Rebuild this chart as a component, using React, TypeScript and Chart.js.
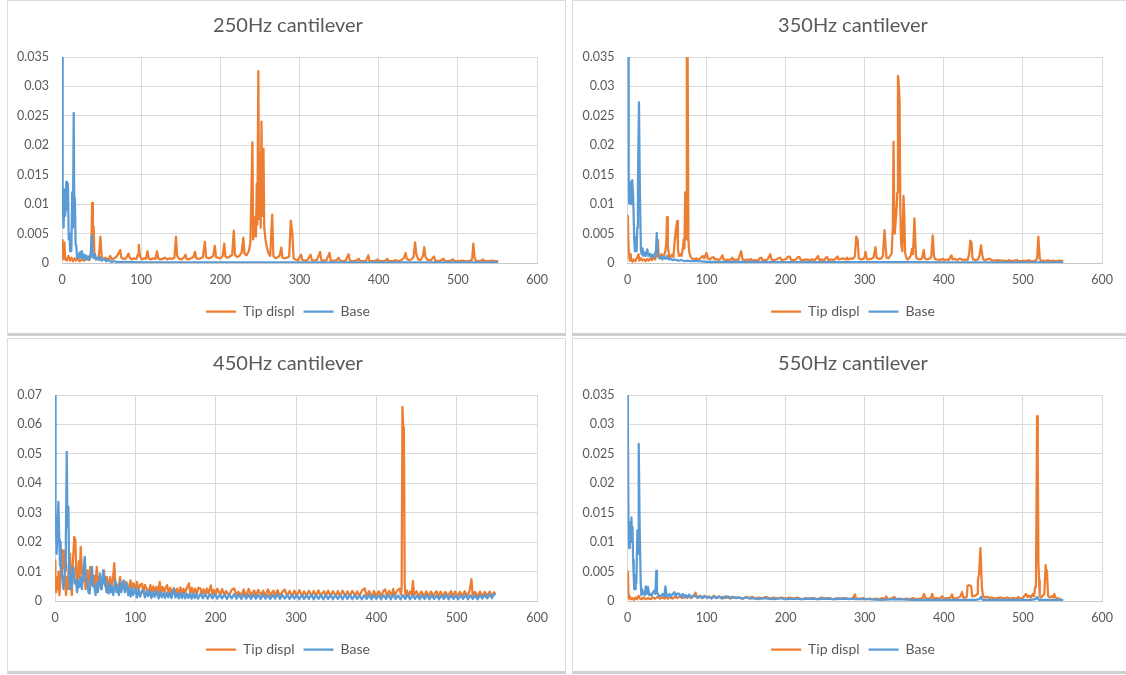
import React, { useEffect, useRef } from "react";
import { Chart, registerables } from "chart.js";

Chart.register(...registerables);

type Pt = [number, number];

const ORANGE = "#ED7D31";
const BLUE = "#5B9BD5";
const TEXT = "#595959";
const GRID = "#d9d9d9";
const FONT = "Lato, 'Open Sans', sans-serif";

const seriesNames = ["Tip displ", "Base"];
const titles = ["250Hz cantilever", "350Hz cantilever", "450Hz cantilever", "550Hz cantilever"];
const xTickLabels = ["0", "100", "200", "300", "400", "500", "600"];
const yTicksSmall = ["0", "0.005", "0.01", "0.015", "0.02", "0.025", "0.03", "0.035"];
const yTicksLarge = ["0", "0.01", "0.02", "0.03", "0.04", "0.05", "0.06", "0.07"];

// ---------- 250Hz ----------
const tip250: Pt[] = [
  [0,0.0039],[0.5,0.0028],[1,0.0012],[2,0.0006],[3,0.0035],[4,0.0008],[6,0.0004],[8,0.0012],[10,0.0004],[12,0.0009],[14,0.0003],[16,0.0008],[18,0.0004],[20,0.001],[22,0.0003],[25,0.0006],[28,0.0004],[31,0.0007],[34,0.0005],[36,0.0009],[37,0.0014],[38,0.0102],[39,0.0035],[40,0.0062],[41,0.0012],[43,0.0006],[46,0.0008],[47,0.0018],[48.5,0.0045],[50,0.0012],[52,0.0006],[55,0.0009],[58,0.0005],[61,0.0012],[63,0.0006],[66,0.0008],[69,0.0011],[72,0.0018],[73.5,0.0022],[75,0.0009],[78,0.0007],[81,0.0008],[84,0.0016],[85.5,0.0009],[88,0.0006],[91,0.0008],[94,0.0007],[96,0.0015],[97,0.0031],[98.5,0.0011],[101,0.0006],[104,0.0008],[106,0.0007],[108,0.002],[109.5,0.0008],[112,0.0006],[115,0.0008],[118,0.0007],[120,0.002],[121.5,0.0008],[124,0.0006],[127,0.0007],[130,0.0009],[133,0.0006],[136,0.0008],[139,0.0007],[142,0.0009],[144,0.0045],[145.5,0.0012],[148,0.0007],[151,0.0006],[154,0.0009],[156,0.0014],[157.5,0.0007],[160,0.0006],[163,0.0008],[166,0.001],[168,0.0019],[169.5,0.0008],[172,0.0007],[175,0.0008],[178,0.001],[180.5,0.0036],[182,0.001],[185,0.0008],[188,0.0009],[191,0.0012],[193,0.0029],[194.5,0.001],[197,0.0009],[200,0.0008],[203,0.0012],[205,0.0033],[206.5,0.0011],[209,0.0009],[212,0.0011],[215,0.0014],[217,0.0055],[218.5,0.0014],[221,0.001],[224,0.0012],[227,0.0018],[229,0.0043],[230.5,0.0016],[233,0.0013],[236,0.002],[238,0.0035],[240.5,0.0205],[241.5,0.004],[243,0.0055],[244,0.0078],[245,0.0045],[246,0.0135],[246.8,0.0065],[248,0.0326],[249,0.0075],[250,0.0186],[251,0.006],[252,0.024],[253,0.008],[254.5,0.0194],[255.5,0.006],[257,0.004],[259,0.0025],[261,0.0016],[263,0.0012],[265.5,0.0082],[267,0.0012],[270,0.0008],[273,0.001],[275,0.0013],[277,0.0026],[278.5,0.0009],[281,0.0008],[284,0.0009],[287,0.0011],[289,0.0072],[291,0.005],[292.5,0.0008],[295,0.0006],[298,0.0005],[302,0.0014],[303.5,0.0005],[307,0.0004],[310,0.0005],[314,0.0014],[315.5,0.0005],[319,0.0004],[322,0.0005],[326,0.0019],[327.5,0.0005],[331,0.0004],[334,0.0005],[338,0.0017],[339.5,0.0004],[343,0.0004],[346,0.0004],[349.6,0.0009],[351,0.0004],[355,0.0003],[358,0.0004],[362,0.0015],[363.5,0.0004],[367,0.0003],[371,0.0004],[375,0.0007],[376.5,0.0003],[380,0.0003],[384,0.0004],[387,0.0013],[388.5,0.0003],[392,0.0003],[396,0.0004],[399,0.0006],[400.5,0.0003],[405,0.0003],[408,0.0004],[411,0.0007],[412.5,0.0003],[417,0.0003],[422,0.0005],[423.5,0.0003],[428,0.0004],[432,0.0009],[434,0.0017],[435.5,0.0007],[438,0.0005],[441,0.0006],[444,0.001],[446,0.0035],[447.5,0.0015],[450,0.0006],[453,0.0005],[456,0.0012],[457.6,0.0027],[459,0.0011],[462,0.0005],[466,0.0005],[470,0.0011],[471.5,0.0004],[476,0.0003],[482,0.0007],[483.5,0.0003],[488,0.0003],[494,0.0006],[495.5,0.0003],[500,0.0003],[506,0.0004],[510,0.0003],[514,0.0003],[518,0.0006],[519.6,0.0033],[521,0.001],[523,0.0003],[527,0.0003],[532,0.0006],[533.5,0.0003],[538,0.0003],[544,0.0004],[547,0.0003],[551,0.0003]
];
const base250: Pt[] = [
  [0,0.035],[0.5,0.02],[1.2,0.0101],[2,0.006],[3.3,0.0125],[4,0.008],[5.4,0.0138],[6.3,0.009],[7.5,0.0135],[8.5,0.004],[9.6,0.005],[10.2,0.002],[10.8,0.004],[11.8,0.002],[12.9,0.012],[13.8,0.006],[14.8,0.0255],[15.6,0.008],[16.3,0.011],[17.2,0.003],[18,0.003],[19,0.001],[20,0.0015],[21,0.0008],[22.5,0.0018],[24,0.0009],[25,0.002],[26.5,0.0008],[28,0.0014],[29.5,0.0006],[30.5,0.0013],[32,0.0007],[33.5,0.0011],[35,0.0006],[36.5,0.002],[37.5,0.0047],[38.5,0.0015],[40,0.0008],[41.7,0.0015],[43,0.0006],[45,0.0009],[47,0.0005],[48,0.001],[50,0.0004],[53,0.0007],[56,0.0003],[59,0.0005],[62,0.0002],[66,0.0003],[70,0.00015],[80,0.0002],[100,0.00012],[150,0.0001],[200,0.0001],[300,0.0001],[400,0.0001],[500,0.0001],[551,0.0001]
];

// ---------- 350Hz ----------
const tip350: Pt[] = [
  [0,0.008],[0.6,0.0065],[1.3,0.0027],[2,0.0012],[3,0.0004],[4,0.0015],[5,0.0004],[6.5,0.0002],[8,0.0006],[10,0.0003],[12,0.0009],[14,0.0015],[15,0.0004],[17,0.0008],[19,0.0004],[21,0.0006],[23,0.0003],[25,0.0007],[27,0.0004],[29,0.0008],[31,0.0005],[33,0.0009],[35,0.0006],[37,0.0015],[38.5,0.0039],[39.5,0.001],[41,0.0008],[43,0.0015],[44.5,0.0008],[46,0.0012],[48,0.002],[49,0.0035],[50,0.0078],[51,0.003],[52.5,0.0012],[54,0.0009],[56,0.0014],[58,0.001],[59.5,0.0035],[61,0.0055],[62.7,0.0071],[63.8,0.0025],[65,0.0012],[67,0.0015],[68.5,0.0012],[70,0.0025],[71,0.004],[72,0.0025],[73,0.012],[74,0.004],[75,0.0355],[76,0.036],[77,0.004],[78,0.0018],[79.7,0.0011],[81,0.0008],[83,0.0007],[85,0.0006],[87,0.0008],[89,0.0005],[91,0.0007],[93,0.0009],[95,0.0012],[97,0.0008],[99.9,0.0017],[101.5,0.0008],[104,0.0006],[106.5,0.0009],[108.8,0.001],[110.5,0.0006],[113,0.0007],[115,0.0005],[118,0.0008],[120,0.0013],[121.5,0.0006],[124,0.0005],[127,0.0006],[130,0.0005],[132.5,0.0009],[134,0.0005],[137,0.0006],[140,0.0005],[143.7,0.002],[145.5,0.0006],[148,0.0005],[151,0.0006],[154,0.0005],[156,0.0007],[158,0.0004],[162,0.0005],[165,0.0004],[167,0.0008],[169,0.0009],[171,0.0005],[174,0.0005],[177,0.0006],[180.5,0.0015],[182,0.0006],[185,0.0005],[188,0.0006],[191,0.0008],[193,0.0009],[195,0.0005],[198,0.0006],[201,0.0007],[203,0.0011],[205,0.0011],[207,0.0005],[210,0.0005],[213,0.0006],[215.5,0.001],[217.6,0.001],[219,0.0005],[222,0.0005],[226,0.0006],[230,0.0005],[233,0.0006],[237,0.0005],[239,0.0008],[241,0.0012],[242.5,0.0005],[246,0.0006],[249,0.0005],[251,0.0009],[252.6,0.001],[254,0.0005],[258,0.0006],[261,0.0005],[264,0.0009],[265.6,0.0011],[267,0.0006],[270,0.0007],[273,0.0008],[276,0.0006],[277.7,0.0009],[279,0.0006],[282,0.0008],[285,0.0007],[287.5,0.0011],[289.3,0.0045],[291,0.0039],[292.5,0.0008],[295,0.0006],[298,0.0007],[300,0.0011],[301,0.0019],[302.5,0.0007],[305,0.0006],[308,0.0007],[311,0.0009],[313.5,0.0027],[315,0.0009],[318,0.0007],[321,0.0008],[323,0.0012],[325,0.0056],[326.5,0.0025],[327.5,0.0009],[330,0.0008],[332,0.0012],[334,0.0016],[335.5,0.006],[336.4,0.0206],[337.3,0.009],[338,0.005],[339,0.007],[340.4,0.0095],[341.2,0.012],[342,0.0318],[343,0.0305],[344,0.0277],[345,0.009],[346,0.0033],[347.5,0.002],[349,0.0114],[350,0.008],[351,0.0018],[352.5,0.0009],[354,0.0006],[356,0.0008],[358,0.0012],[359.8,0.0024],[361,0.0015],[362.8,0.0076],[364,0.0035],[365,0.0009],[367,0.0007],[370,0.0006],[372.5,0.0008],[374.6,0.0022],[376,0.0008],[378,0.0006],[381,0.0007],[384,0.0009],[386,0.0047],[387.5,0.0012],[389,0.0006],[392,0.0006],[395,0.0005],[398.6,0.0007],[400,0.0005],[403,0.0006],[406,0.0005],[409.7,0.0013],[411,0.0006],[414,0.0007],[417,0.0005],[419,0.0007],[421.8,0.0007],[424,0.0005],[427,0.0006],[430,0.0005],[432,0.0015],[433.5,0.0038],[435,0.0035],[436,0.0012],[437,0.0006],[440,0.0005],[443,0.0006],[445,0.0012],[447,0.003],[448.8,0.0012],[450,0.0006],[453,0.0005],[456,0.0007],[458.6,0.0007],[460,0.0005],[464,0.0004],[468,0.0005],[472,0.0004],[476,0.0004],[480,0.0003],[482.8,0.0005],[485,0.0003],[489,0.0004],[492.6,0.0005],[494,0.0003],[498,0.0003],[502,0.0004],[505,0.0003],[507.4,0.0005],[509,0.0003],[513,0.0003],[516,0.0004],[518,0.0008],[519.5,0.0045],[521.3,0.0008],[523,0.0003],[526,0.0004],[529,0.0003],[532,0.0005],[534,0.0003],[538,0.0004],[542,0.0003],[546,0.0004],[551,0.0003]
];
const base350: Pt[] = [
  [0,0.035],[0.9,0.035],[1.5,0.015],[2.1,0.0101],[3,0.012],[3.8,0.0138],[4.8,0.01],[6,0.0141],[7.2,0.0113],[8.5,0.0039],[9.5,0.002],[10.6,0.0044],[11.5,0.002],[12.3,0.006],[13.2,0.0135],[14.5,0.0273],[15.7,0.0118],[17,0.0022],[18,0.0015],[19,0.0025],[20,0.0012],[21.5,0.0018],[23,0.0012],[25,0.0023],[26.5,0.0012],[28.5,0.0016],[30,0.001],[31.5,0.0014],[33,0.0009],[34.5,0.0015],[36,0.002],[37,0.0051],[38,0.0018],[39,0.0012],[40.5,0.0008],[42,0.001],[44,0.0006],[46,0.0011],[48,0.0007],[50,0.0012],[52,0.0006],[54,0.0007],[57,0.0005],[60,0.0006],[64,0.0004],[68,0.0005],[72,0.0003],[76,0.0004],[80,0.0003],[90,0.0003],[100,0.0002],[120,0.0002],[150,0.0002],[200,0.00015],[250,0.00015],[300,0.00015],[350,0.00015],[400,0.00012],[450,0.00012],[500,0.0001],[551,0.0001]
];

// ---------- 450Hz ----------
const tip450: Pt[] = [
  [0,0.0138],[0.5,0.006],[1.5,0.003],[2.5,0.008],[3.5,0.004],[4.5,0.01],[5.5,0.002],[6.5,0.006],[7.5,0.012],[8.5,0.008],[9.6,0.0173],[10.5,0.011],[11.7,0.017],[12.7,0.006],[13.7,0.002],[15,0.008],[16,0.004],[17,0.012],[18.8,0.016],[20,0.005],[21,0.002],[22,0.012],[24,0.0218],[25.4,0.0206],[26.5,0.009],[28,0.004],[29.6,0.0135],[30.8,0.008],[32,0.0184],[33.5,0.01],[35.4,0.0068],[36.5,0.0115],[38,0.004],[39,0.006],[40.4,0.0104],[42,0.005],[43.8,0.0116],[45,0.006],[47,0.0056],[48.5,0.0085],[50,0.004],[52,0.0116],[53.5,0.006],[55,0.0082],[56,0.0059],[58,0.004],[59.5,0.008],[61,0.0104],[62.5,0.005],[64.6,0.0082],[66,0.004],[67.5,0.0065],[68.8,0.0082],[70,0.004],[72,0.007],[73.8,0.0129],[75,0.006],[77,0.0056],[78.5,0.0035],[80,0.006],[81,0.0082],[82.5,0.004],[84,0.005],[85.4,0.0059],[87,0.003],[88.5,0.0065],[89.6,0.0065],[91,0.004],[92.5,0.005],[94,0.007],[95.5,0.0035],[97,0.006],[98,0.0059],
  [100,0.003],[102,0.0065],[104,0.0038],[106,0.0055],[108.3,0.0059],[110,0.0028],[112,0.0055],[114,0.0042],[116,0.0026],[118.8,0.0054],[120.5,0.0028],[122.5,0.005],[124.5,0.0032],[126.5,0.0048],[128.5,0.0025],[130.4,0.0065],[132,0.0028],[134,0.0048],[136,0.003],[138,0.0046],[139.6,0.0054],[141.5,0.0026],[143.5,0.0045],[145.5,0.0024],[148,0.0044],[150,0.0028],[152,0.0042],[154,0.0022],[156,0.0046],[158,0.0026],[160,0.0042],[162,0.0028],[164.5,0.0046],[166.7,0.006],[168.5,0.0024],[170.5,0.0045],[172.5,0.0026],[174.5,0.0042],[176.5,0.0022],[178.5,0.0045],[181,0.0043],[183,0.0022],[185,0.004],[187,0.002],[189,0.0042],[191,0.0025],[194,0.0053],[196,0.0022],[198,0.0038],[200,0.002],[202,0.0042],[204,0.0031],[206,0.0022],[208,0.0041],[211,0.0019],[213,0.0034],[215,0.0025],[217,0.0021],[220,0.0038],[223,0.0043],[226,0.0019],[228,0.0031],[230,0.0026],[232,0.002],[235,0.0039],[237,0.0023],[238.5,0.0018],[241,0.0041],[244,0.0019],[246,0.003],[248,0.0036],[250,0.0018],[253,0.0038],[255,0.0027],[257,0.002],[259,0.0035],[262,0.0017],[265,0.0039],[268,0.0019],[270,0.0029],[272,0.0035],[274,0.0017],[277,0.0037],[280,0.0018],[282,0.0027],[284,0.0034],[286,0.0039],[289,0.0017],[292,0.0034],[294,0.0022],[296,0.0018],[298,0.0035],[301,0.0017],[304,0.0037],[306,0.0026],[308,0.0018],[310,0.0033],[313,0.0016],[316,0.0035],[318,0.0025],[320,0.0017],[322,0.0034],[325,0.0018],[328,0.0036],[331,0.0016],[333,0.0027],[335,0.0033],[337,0.0017],[340,0.0035],[343,0.0016],[346,0.0033],[348,0.0024],[350,0.0018],[352,0.0034],[355,0.0016],[358,0.0035],[360,0.0025],[362,0.0017],[364,0.0033],[367,0.0016],[370,0.0034],[372,0.0026],[374,0.0018],[376,0.0033],[379,0.0016],[382,0.0035],[385.5,0.0043],[388,0.0017],[391,0.0033],[393,0.0024],[395,0.0016],[397,0.0034],[400,0.0017],[403,0.0033],[406,0.0018],[409,0.0035],[411,0.0039],[413,0.0017],[416,0.0034],[419,0.0018],[421,0.0041],[423,0.0019],[426,0.0036],[429,0.0042],[430.5,0.0022],[431.5,0.0045],[432.5,0.066],[433.5,0.059],[434.3,0.0575],[435.3,0.006],[436.3,0.0018],[438,0.0035],[440,0.0017],[442,0.0032],[444,0.0022],[445.6,0.0068],[447,0.0019],[450,0.0033],[453,0.0016],[456,0.0032],[458,0.0024],[460,0.0017],[462,0.0033],[465,0.0016],[468,0.0032],[471,0.0017],[473,0.0027],[475,0.0033],[477,0.0015],[480,0.0032],[483,0.0017],[486,0.0031],[489,0.0016],[491,0.0026],[493,0.0033],[495,0.0015],[498,0.0032],[501,0.0017],[504,0.0031],[507,0.0016],[510,0.0033],[513,0.0016],[516,0.0034],[518.4,0.0074],[520,0.0018],[523,0.0031],[526,0.0016],[529,0.0032],[532,0.0015],[535,0.0031],[538,0.0017],[541,0.0032],[544,0.0016],[546.5,0.003],[548.5,0.0022]
];
const base450: Pt[] = [
  [0,0.07],[0.4,0.07],[1,0.03],[2,0.016],[3,0.022],[4.2,0.0337],[5.4,0.0207],[6.2,0.012],[7,0.02],[8,0.01],[9.6,0.007],[10.5,0.004],[11.5,0.008],[12.5,0.0104],[13.5,0.02],[14.6,0.0507],[15.5,0.025],[16.7,0.032],[17.5,0.012],[18.5,0.004],[19.5,0.008],[20.4,0.0042],[21.5,0.009],[23,0.0116],[24.5,0.006],[26,0.0072],[27.5,0.003],[29,0.007],[30.4,0.0048],[32,0.008],[33.5,0.004],[35,0.009],[37,0.015],[38.5,0.007],[40,0.0072],[41.5,0.003],[43,0.0025],[44.5,0.006],[46,0.0116],[47.5,0.005],[49,0.0048],[50.5,0.002],[52,0.006],[53.5,0.003],[55,0.007],[56,0.0093],[57.5,0.004],[59,0.006],[60,0.0104],[61.5,0.006],[62.5,0.008],[64,0.003],[65.5,0.005],[66.7,0.0025],[68,0.006],[69.5,0.003],[71,0.0048],[72.5,0.002],[74,0.005],[75,0.007],[76.5,0.003],[78,0.0045],[79.5,0.002],[81,0.0065],[82.5,0.003],[84,0.0055],[85.4,0.007],[87,0.003],[88.5,0.005],[89.6,0.0059],[91,0.002],[92.5,0.004],[94,0.0015],[95.5,0.0045],[97,0.002],[98,0.0025],
  [100,0.0045],[102,0.0012],[104,0.0038],[106,0.0015],[108,0.0034],[110,0.0036],[112,0.0012],[114,0.0034],[116,0.0016],[118,0.0034],[120,0.001],[122,0.003],[124,0.0014],[126,0.0035],[127,0.0025],[129,0.0009],[131,0.003],[133,0.0012],[135,0.0028],[137,0.001],[139,0.0029],[141,0.0012],[143,0.0027],[145,0.001],[148,0.0042],[150,0.0012],[152,0.0027],[154,0.0009],[156,0.0026],[158,0.001],[160,0.0027],[162,0.0009],[164,0.0025],[166,0.001],[168,0.0026],[170,0.0008],[172,0.0025],[174,0.001],[176,0.0024],[178,0.0008],[181,0.0025],[184,0.0009],[187,0.0024],[190,0.0008],[193,0.0023],[196,0.0009],[199,0.0024],[202,0.0008],[205,0.0022],[208,0.0009],[211,0.0023],[214,0.0007],[217,0.0022],[220,0.0009],[223,0.0024],[226,0.0008],[229,0.0022],[232,0.0007],[235,0.0023],[238,0.0008],[241,0.0021],[244,0.0007],[247,0.0022],[250,0.0008],[253,0.0021],[256,0.0007],[259,0.0022],[262,0.0008],[265,0.002],[268,0.0007],[271,0.0021],[274,0.0008],[277,0.0023],[280,0.0007],[283,0.0021],[286,0.0008],[289,0.002],[292,0.0007],[295,0.0021],[298,0.0008],[301,0.002],[304,0.0006],[307,0.0021],[310,0.0007],[313,0.002],[316,0.0007],[319,0.0022],[322,0.0006],[325,0.002],[328,0.0007],[331,0.0021],[334,0.0006],[337,0.002],[340,0.0007],[343,0.0021],[346,0.0006],[349,0.002],[352,0.0007],[355,0.0019],[358,0.0006],[361,0.0022],[364,0.0007],[367,0.0021],[370,0.0006],[373,0.002],[376,0.0007],[379,0.0019],[382,0.0006],[385,0.002],[388,0.0007],[391,0.0021],[394,0.0006],[397,0.002],[400,0.0007],[403,0.0019],[406,0.0006],[409,0.002],[412,0.0007],[415,0.0021],[418,0.0006],[421,0.0022],[424,0.0007],[427,0.0019],[430,0.0006],[433,0.002],[436,0.0007],[439,0.0021],[442,0.0006],[445,0.002],[448,0.0007],[451,0.0019],[454,0.0006],[457,0.002],[460,0.0007],[463,0.0021],[466,0.0006],[469,0.002],[472,0.0007],[475,0.0019],[478,0.0006],[481,0.002],[484,0.0007],[487,0.0021],[490,0.0006],[493,0.002],[496,0.0007],[499,0.0019],[502,0.0006],[505,0.002],[508,0.0007],[511,0.0021],[514,0.0006],[517,0.002],[520,0.0007],[523,0.0019],[526,0.0006],[529,0.002],[532,0.0008],[535,0.0022],[538,0.0009],[541,0.0023],[544,0.001],[546.5,0.0024],[548.5,0.0022]
];

// ---------- 550Hz ----------
const tip550: Pt[] = [
  [0,0.005],[0.6,0.0045],[1.25,0.0012],[2,0.0004],[3,0.0008],[4,0.0003],[6,0.0005],[8,0.0002],[10,0.0006],[12,0.0003],[14,0.0009],[16,0.0004],[18,0.0003],[20,0.0006],[23,0.0003],[26,0.0005],[29,0.0003],[32,0.0006],[35,0.0004],[38,0.0007],[41,0.0004],[44,0.0006],[47,0.0004],[48.8,0.0009],[51,0.0004],[54,0.0006],[57,0.0004],[60,0.0007],[63,0.0005],[66,0.0008],[69,0.0005],[72,0.0009],[75,0.0005],[78,0.0008],[81,0.0005],[84,0.0009],[86,0.0014],[88,0.0006],[91,0.0008],[94,0.0005],[97,0.0009],[100,0.0006],[103,0.0008],[106,0.0005],[109,0.0009],[112,0.0005],[115,0.0008],[118,0.0005],[121,0.0007],[124,0.0005],[127,0.0008],[130,0.0004],[134,0.0007],[138,0.0005],[142,0.0006],[146,0.0004],[150,0.0007],[154,0.0005],[158,0.0007],[162,0.0004],[166,0.0006],[170,0.0004],[175,0.0007],[180,0.0004],[185,0.0006],[190,0.0004],[195,0.0006],[200,0.0004],[205,0.0006],[210,0.0004],[215,0.0006],[220,0.0003],[225,0.0005],[230,0.0004],[235,0.0005],[240,0.0003],[245,0.0006],[250,0.0004],[255,0.0005],[260,0.0003],[265,0.0005],[270,0.0004],[275,0.0005],[280,0.0003],[285,0.0005],[287.5,0.0011],[289,0.0004],[294,0.0004],[298,0.0005],[302,0.0003],[306,0.0004],[310,0.0003],[314,0.0004],[318,0.0003],[322,0.0005],[326,0.0003],[327,0.0008],[329,0.0003],[333,0.0004],[337.5,0.0007],[339,0.0003],[343,0.0004],[348,0.0003],[352,0.0004],[357,0.0003],[361,0.0005],[365,0.0003],[370,0.0004],[373,0.0005],[375,0.0012],[377,0.0004],[381,0.0004],[383.5,0.0005],[385.4,0.0012],[387,0.0004],[391,0.0005],[395,0.0004],[397.9,0.0008],[400,0.0004],[404,0.0005],[408,0.0005],[410.4,0.0011],[412,0.0004],[416,0.0005],[419,0.0006],[421,0.0008],[423,0.0015],[425,0.0005],[429,0.0007],[430,0.0026],[432,0.0027],[434.6,0.0025],[436,0.0008],[440,0.0009],[442,0.0012],[443,0.0035],[444.5,0.0045],[446.3,0.009],[448,0.0025],[449.6,0.0008],[452,0.0006],[455,0.0007],[458,0.0005],[460.4,0.0006],[464,0.0004],[468,0.0005],[472,0.0006],[476,0.0004],[480,0.0006],[484,0.0004],[488,0.0005],[492,0.0004],[494,0.0007],[496,0.0004],[500,0.0005],[504,0.0012],[506,0.0007],[508.3,0.0009],[510,0.0006],[512.5,0.0012],[514,0.0008],[515.4,0.0024],[516.5,0.0028],[517.9,0.0314],[518.8,0.0245],[519.6,0.0064],[520.5,0.0035],[521.3,0.0008],[523,0.0006],[525,0.0009],[527,0.0012],[528.8,0.0061],[529.6,0.0045],[530.4,0.0052],[531.2,0.0025],[532,0.0008],[534,0.0006],[536.3,0.0008],[538,0.0006],[539.6,0.0012],[541,0.0006],[543,0.0005],[546,0.0004],[548,0.0002]
];
const base550: Pt[] = [
  [0,0.035],[0.5,0.03],[1.25,0.0117],[2,0.009],[2.9,0.0134],[4,0.01],[5,0.0142],[5.7,0.011],[6.3,0.0126],[7.1,0.007],[7.9,0.0041],[8.5,0.002],[9.2,0.0044],[10,0.002],[10.4,0.0035],[11.2,0.003],[12.5,0.012],[13.3,0.008],[14.2,0.0267],[15.4,0.0123],[16.7,0.0032],[17.5,0.001],[18.5,0.002],[19.6,0.0012],[21,0.0015],[22,0.001],[23,0.0025],[24.5,0.0012],[25.9,0.0024],[27.5,0.001],[29.2,0.0012],[30.5,0.0009],[32,0.0014],[34.2,0.0018],[35.3,0.0012],[36.3,0.0051],[37.3,0.0015],[38.5,0.0012],[40,0.0008],[42.5,0.0009],[45,0.0012],[46.5,0.0007],[48,0.0025],[49.5,0.0009],[50.9,0.0008],[53,0.0012],[55,0.0007],[57,0.0012],[59.2,0.0015],[61,0.0008],[63,0.0013],[65.5,0.0012],[67.5,0.0007],[70,0.0012],[72,0.0006],[73.8,0.001],[76,0.0007],[78,0.0011],[80,0.0006],[83,0.0009],[86.3,0.0008],[89,0.0005],[92,0.0009],[95,0.0005],[98,0.0008],[101,0.0005],[103,0.0007],[106,0.0004],[110,0.0008],[113,0.0005],[116,0.0008],[120,0.0004],[124,0.0008],[128,0.0005],[132,0.0007],[136,0.0005],[140,0.0006],[145,0.0004],[150,0.0006],[155,0.0004],[160,0.0005],[165,0.0003],[170,0.0005],[178,0.0004],[185,0.0003],[192,0.0005],[200,0.0003],[210,0.0004],[220,0.0003],[230,0.0004],[240,0.0003],[250,0.0004],[261,0.0003],[275,0.0004],[290,0.0003],[305,0.0003],[320,0.0002],[340,0.0003],[360,0.0002],[380,0.0002],[400,0.0002],[420,0.0002],[440,0.0002],[445,0.0003],[447,0.0007],[449,0.0002],[470,0.0002],[490,0.0002],[510,0.0002],[516,0.0003],[518,0.0007],[520,0.0002],[535,0.0002],[551,0.0002]
];

interface PanelSpec {
  title: string;
  tip: Pt[];
  base: Pt[];
  yMax: number;
  yStep: number;
  yLabels: string[];
  yWidth: number;
  left: number;
  top: number;
}

const panels: PanelSpec[] = [
  { title: titles[0], tip: tip250, base: base250, yMax: 0.035, yStep: 0.005, yLabels: yTicksSmall, yWidth: 55, left: 7, top: 0 },
  { title: titles[1], tip: tip350, base: base350, yMax: 0.035, yStep: 0.005, yLabels: yTicksSmall, yWidth: 55.5, left: 572, top: 0 },
  { title: titles[2], tip: tip450, base: base450, yMax: 0.07, yStep: 0.01, yLabels: yTicksLarge, yWidth: 48, left: 7, top: 338 },
  { title: titles[3], tip: tip550, base: base550, yMax: 0.035, yStep: 0.005, yLabels: yTicksSmall, yWidth: 55.5, left: 572, top: 338 },
];

const CW = 558;
const CH = 333;

function ChartPanel({ spec }: { spec: PanelSpec }) {
  const ref = useRef<HTMLCanvasElement>(null);
  useEffect(() => {
    if (!ref.current) return;
    const chart = new Chart(ref.current, {
      type: "line",
      data: {
        datasets: [
          {
            label: seriesNames[0],
            data: spec.tip.map(([x, y]) => ({ x, y })),
            borderColor: ORANGE,
            backgroundColor: ORANGE,
            borderWidth: 2.25,
            pointRadius: 0,
            tension: 0,
            borderJoinStyle: "round",
            order: 2,
          },
          {
            label: seriesNames[1],
            data: spec.base.map(([x, y]) => ({ x, y })),
            borderColor: BLUE,
            backgroundColor: BLUE,
            borderWidth: 2.25,
            pointRadius: 0,
            tension: 0,
            borderJoinStyle: "round",
            order: 1,
          },
        ],
      },
      options: {
        responsive: false,
        maintainAspectRatio: false,
        animation: false,
        events: [],
        layout: { padding: { left: 4, right: 0, top: 0, bottom: 4.5 } },
        plugins: {
          title: {
            display: true,
            text: spec.title,
            color: TEXT,
            font: { family: FONT, size: 20, weight: "normal" },
            padding: { top: 14, bottom: 19 },
          },
          legend: {
            position: "bottom",
            labels: {
              usePointStyle: true,
              pointStyle: "line",
              pointStyleWidth: 30,
              color: TEXT,
              font: { family: FONT, size: 14 },
              padding: 9,
              sort: (a: any, b: any) => a.datasetIndex - b.datasetIndex,
            },
          },
          tooltip: { enabled: false },
        },
        scales: {
          x: {
            type: "linear",
            min: 0,
            max: 600,
            ticks: {
              stepSize: 100,
              color: TEXT,
              font: { family: FONT, size: 12.5 },
              padding: 9,
              maxRotation: 0,
              callback: (_v: any, i: number) => xTickLabels[i],
            },
            grid: { color: GRID, drawTicks: false, lineWidth: 1 },
            border: { display: true, color: "#c8c8c8", width: 1 },
            afterFit: (s: any) => {
              s.height = 32.5;
            },
          },
          y: {
            type: "linear",
            min: 0,
            max: spec.yMax,
            ticks: {
              stepSize: spec.yStep,
              color: TEXT,
              font: { family: FONT, size: 12.5 },
              padding: 13,
              callback: (_v: any, i: number) => spec.yLabels[i],
            },
            grid: { color: GRID, drawTicks: false, lineWidth: 1 },
            border: { display: false },
            afterFit: (s: any) => {
              s.width = spec.yWidth - 4;
            },
          },
          spacer: {
            type: "linear",
            position: "right",
            display: true,
            min: 0,
            max: 1,
            ticks: { display: false },
            grid: { display: false, drawTicks: false },
            border: { display: false },
            afterFit: (s: any) => {
              s.width = 28;
            },
          },
        },
      } as any,
    });
    return () => chart.destroy();
  }, [spec]);

  return (
    <>
      <div
        style={{
          position: "absolute",
          left: spec.left,
          top: spec.top,
          width: 559,
          height: 336,
          boxSizing: "border-box",
          border: "1px solid #dcdcdc",
          borderBottom: "3px solid #d0d0d0",
          background: "#ffffff",
        }}
      />
      <canvas
        ref={ref}
        width={CW}
        height={CH}
        style={{ position: "absolute", left: spec.left, top: spec.top, width: CW, height: CH }}
      />
    </>
  );
}

export default function App() {
  return (
    <div
      style={{
        position: "fixed",
        left: 0,
        top: 0,
        width: 1126,
        height: 675,
        overflow: "hidden",
        background: "#ffffff",
      }}
    >
      {panels.map((p) => (
        <ChartPanel key={p.title} spec={p} />
      ))}
    </div>
  );
}
